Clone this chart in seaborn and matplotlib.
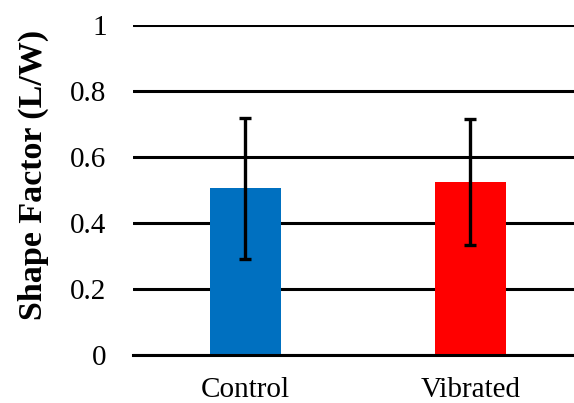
import pandas as pd
import seaborn as sns
import matplotlib.pyplot as plt

# Values
groups = ["Control", "Vibrated"]
means = [0.505, 0.524]
errors = [0.213, 0.192]
bar_colors = ["#0070C0", "#FF0000"]
y_ticks = [0, 0.2, 0.4, 0.6, 0.8, 1]
y_tick_labels = ["0", "0.2", "0.4", "0.6", "0.8", "1"]

data = pd.DataFrame({"Group": groups, "Shape": means})

sns.set_style("white")
plt.rcParams["font.family"] = ["Liberation Serif", "DejaVu Serif"]
plt.rcParams["text.color"] = "black"
plt.rcParams["axes.labelcolor"] = "black"
plt.rcParams["xtick.color"] = "black"
plt.rcParams["ytick.color"] = "black"

fig = plt.figure(figsize=(5.74, 4.03), dpi=100)
ax = fig.add_axes([0.2317, 0.119, 0.7683, 0.819])

sns.barplot(data=data, x="Group", y="Shape", hue="Group", palette=bar_colors,
            width=0.315, saturation=1, linewidth=0, legend=False, ax=ax, zorder=3)
ax.errorbar(x=range(len(groups)), y=means, yerr=errors, fmt="none",
            ecolor="black", elinewidth=2.4, capsize=4.3, capthick=2.4, zorder=4)

ax.set_ylim(0, 1)
ax.set_xlim(-0.5, 1.46)
ax.set_yticks(y_ticks)
ax.set_yticklabels(y_tick_labels)
ax.yaxis.grid(True, color="black", linewidth=2.2)
ax.set_axisbelow(True)

for side in ["top", "right", "left"]:
    ax.spines[side].set_visible(False)
ax.spines["bottom"].set_color("black")
ax.spines["bottom"].set_linewidth(2.2)
ax.spines["bottom"].set_zorder(5)

ax.tick_params(axis="y", length=0, pad=19, labelsize=21)
ax.tick_params(axis="x", length=0, pad=16, labelsize=21)
ax.set_xlabel("")
ax.set_ylabel("Shape Factor (L/W)", fontsize=24.5, fontweight="bold")
ax.yaxis.set_label_coords(-0.19, 0.545)

fig.savefig("out.png", dpi=100)
